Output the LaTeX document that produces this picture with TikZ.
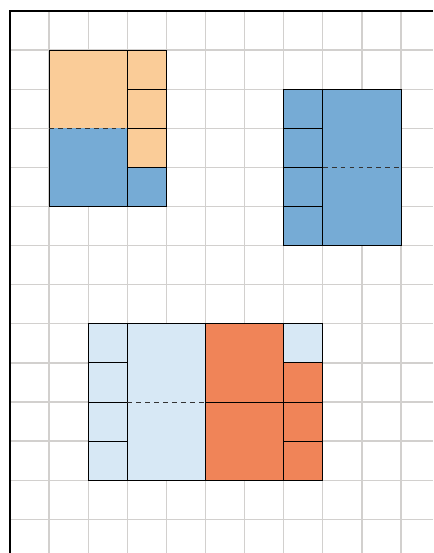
\documentclass[tikz,border=0pt]{standalone}
\usepackage{tikz}
\definecolor{peachColor}{RGB}{250,204,152}
\definecolor{steelColor}{RGB}{118,171,213}
\definecolor{paleColor}{RGB}{215,232,245}
\definecolor{coralColor}{RGB}{240,132,88}
\definecolor{gridColor}{RGB}{210,208,206}
\begin{document}
\begin{tikzpicture}[yscale=-1,
    cell/.style={draw=black, line width=0.7pt},
    halfline/.style={black!80, line width=0.6pt, dash pattern=on 3.5pt off 3pt}]
  \useasboundingbox (-0.256,-0.281) rectangle (10.818,13.862);

  % Grid paper
  \foreach \x in {1,...,10}
    \draw[gridColor, line width=0.9pt] (\x,0) -- (\x,13.862);
  \foreach \y in {1,...,13}
    \draw[gridColor, line width=0.9pt] (0,\y) -- (10.818,\y);
  \draw[line width=1.4pt] (0,13.862) -- (0,0) -- (10.818,0);

  % Figure 1 (top left)
  \fill[peachColor] (1,1) rectangle (3,3);
  \fill[steelColor] (1,3) rectangle (3,5);
  \draw[cell] (1,1) rectangle (3,5);
  \draw[halfline] (1,3) -- (3,3);
  \foreach \y in {1,2,3}
    \filldraw[cell, fill=peachColor] (3,\y) rectangle ++(1,1);
  \filldraw[cell, fill=steelColor] (3,4) rectangle ++(1,1);

  % Figure 2 (top right)
  \foreach \y in {2,...,5}
    \filldraw[cell, fill=steelColor] (7,\y) rectangle ++(1,1);
  \filldraw[cell, fill=steelColor] (8,2) rectangle (10,6);
  \draw[halfline] (8,4) -- (10,4);

  % Figure 3 (bottom)
  \foreach \y in {8,...,11}
    \filldraw[cell, fill=paleColor] (2,\y) rectangle ++(1,1);
  \filldraw[cell, fill=paleColor] (3,8) rectangle (5,12);
  \draw[halfline] (3,10) -- (5,10);
  \filldraw[cell, fill=coralColor] (5,8) rectangle (7,10);
  \filldraw[cell, fill=coralColor] (5,10) rectangle (7,12);
  \filldraw[cell, fill=paleColor] (7,8) rectangle ++(1,1);
  \foreach \y in {9,10,11}
    \filldraw[cell, fill=coralColor] (7,\y) rectangle ++(1,1);
\end{tikzpicture}
\end{document}
